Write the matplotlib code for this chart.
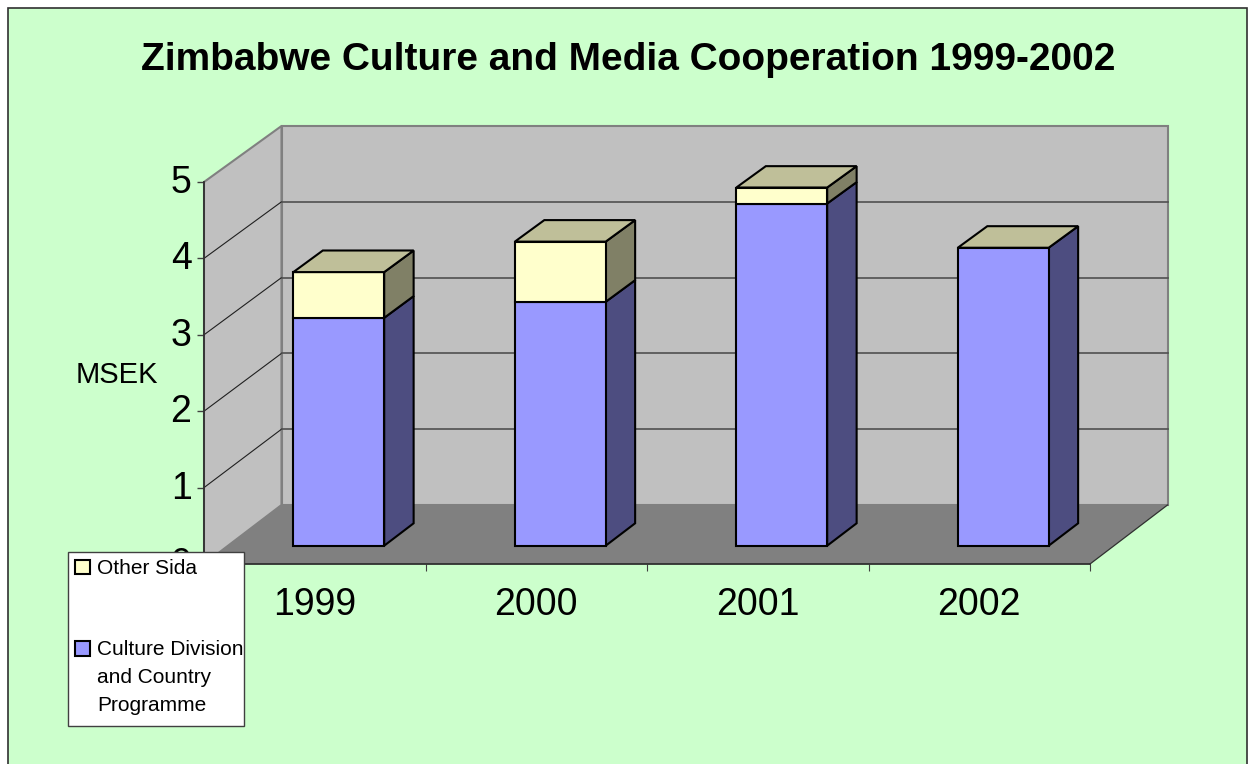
import matplotlib
matplotlib.use("Agg")
import matplotlib.pyplot as plt
from matplotlib.patches import Patch, Rectangle
from matplotlib.transforms import ScaledTranslation

plt.rcParams['font.family'] = ['Liberation Sans', 'DejaVu Sans']

years = ['1999', '2000', '2001', '2002']
culture_division = [2.99, 3.20, 4.49, 3.91]
other_sida = [0.60, 0.79, 0.21, 0.0]
value_ticks = [0, 1, 2, 3, 4, 5]

W, H = 1248, 764
BG = '#CCFFCC'
# size of the fake 3d depth, in data units of the front plane
DEPTH_X = 77.5 / 221.5
DEPTH_Y = 59 / 76.4


def project(x, v, d=0.0):
    # oblique projection: slide back by d (0 front, 1 back wall)
    return x + d * DEPTH_X, v * (76.4 - 0.6 * d) / 76.4 + d * DEPTH_Y


def face(ax, corners, color, edge='black', lw=1.5, z=3):
    pts = [project(*c) for c in corners]
    ax.fill([p[0] for p in pts], [p[1] for p in pts], facecolor=color, edgecolor=edge,
            linewidth=lw, clip_on=False, zorder=z, joinstyle='miter')


def box(ax, x0, x1, v0, v1, d0, d1, front, side):
    face(ax, [(x1, v0, d0), (x1, v0, d1), (x1, v1, d1), (x1, v1, d0)], side)
    face(ax, [(x0, v0, d0), (x1, v0, d0), (x1, v1, d0), (x0, v1, d0)], front)


fig = plt.figure(figsize=(W / 100, H / 100), dpi=100, facecolor='white')
fig.add_artist(Rectangle((8 / W, -0.02), (1246.5 - 8) / W, 1.02 - 8 / H, transform=fig.transFigure,
                         facecolor=BG, edgecolor='#303030', linewidth=1.2, zorder=-1))

ax = fig.add_axes([204 / W, 1 - 564 / H, 886 / W, 382 / H])
ax.patch.set_alpha(0)
ax.set_xlim(0, 4)
ax.set_ylim(0, 5)

# walls and floor
face(ax, [(0, 0, 0), (0, 0, 1), (0, 5, 1), (0, 5, 0)], '#C0C0C0', edge='#808080', z=1)
face(ax, [(0, 0, 1), (4, 0, 1), (4, 5, 1), (0, 5, 1)], '#C0C0C0', edge='#808080', z=1)
face(ax, [(0, 0, 0), (4, 0, 0), (4, 0, 1), (0, 0, 1)], '#808080', edge='none', lw=0, z=1.2)
xa, ya = project(4, 0, 0)
xb, yb = project(4, 0, 1)
ax.plot([xa, xb], [ya, yb], color='#303030', lw=0.9, clip_on=False, zorder=1.3)

# gridlines
for v in value_ticks[1:-1]:
    xa, ya = project(0, v, 0)
    xb, yb = project(0, v, 1)
    xc, yc = project(4, v, 1)
    ax.plot([xa, xb], [ya, yb], color='#202020', lw=0.8, clip_on=False, zorder=1.4)
    ax.plot([xb, xc], [yb, yc], color='#505050', lw=1.2, clip_on=False, zorder=1.4)

# bars
bar_w = 0.41
d0, d1 = 0.31, 0.69
for i in range(len(years)):
    x0 = i + 0.5 - bar_w / 2
    x1 = x0 + bar_w
    c = culture_division[i]
    o = other_sida[i]
    box(ax, x0, x1, 0, c, d0, d1, '#9999FF', '#4D4D80')
    if o > 0:
        box(ax, x0, x1, c, c + o, d0, d1, '#FFFFCC', '#808066')
    t = c + o
    face(ax, [(x0, t, d0), (x1, t, d0), (x1, t, d1), (x0, t, d1)], '#BFBF99')

# axes
for s in ['top', 'right']:
    ax.spines[s].set_visible(False)
for s in ['left', 'bottom']:
    ax.spines[s].set_color('#303030')
    ax.spines[s].set_linewidth(1.3)
ax.set_yticks(value_ticks)
ax.tick_params(axis='y', labelsize=27, length=5, width=1, color='#404040', pad=4)
ax.set_xticks(range(len(years) + 1))
ax.set_xticklabels([])
ax.tick_params(axis='x', which='major', length=5, width=0.8, color='#404040')
ax.set_xticks([i + 0.5 for i in range(len(years))], minor=True)
ax.set_xticklabels(years, minor=True, fontsize=27)
ax.tick_params(axis='x', which='minor', length=0, pad=16.5)

# value labels sit a little above their ticks in the original
up = ScaledTranslation(0, 3 / 100, fig.dpi_scale_trans)
for lab in ax.get_yticklabels():
    lab.set_transform(lab.get_transform() + up)

fig.text(117 / W, 1 - 375 / H, 'MSEK', fontsize=21, ha='center', va='center')
fig.text(628 / W, 1 - 60.5 / H, 'Zimbabwe Culture and Media Cooperation 1999-2002', fontsize=28,
         fontweight='bold', ha='center', va='center')

# legend box is narrower than its text, so it is drawn separately from the legend
ax.add_patch(Rectangle((68 / W, 1 - 726 / H), 176 / W, 174 / H, transform=fig.transFigure,
                       facecolor='white', edgecolor='#404040', linewidth=1.0, clip_on=False, zorder=9))
handles = [Patch(facecolor='#FFFFCC', edgecolor='black', linewidth=1.5),
           Patch(facecolor='#9999FF', edgecolor='black', linewidth=1.5)]
labels = ['Other Sida', 'Culture Division\nand Country\nProgramme']
leg = ax.legend(handles, labels, loc='upper left', bbox_to_anchor=(68 / W, 1 - 552 / H),
                bbox_transform=fig.transFigure, fontsize=15, frameon=False,
                borderaxespad=0, borderpad=0.35, handlelength=0.7, handleheight=0.7,
                handletextpad=0.35, labelspacing=2.95, alignment='left')
leg.set_zorder(10)
for t in leg.get_texts():
    t.set_linespacing(1.62)
# keep the swatch level with the first line of the wrapped label
swatch = leg.get_patches()[1]
swatch.set_y(swatch.get_y() + 21)

fig.savefig('out.png', dpi=100)
